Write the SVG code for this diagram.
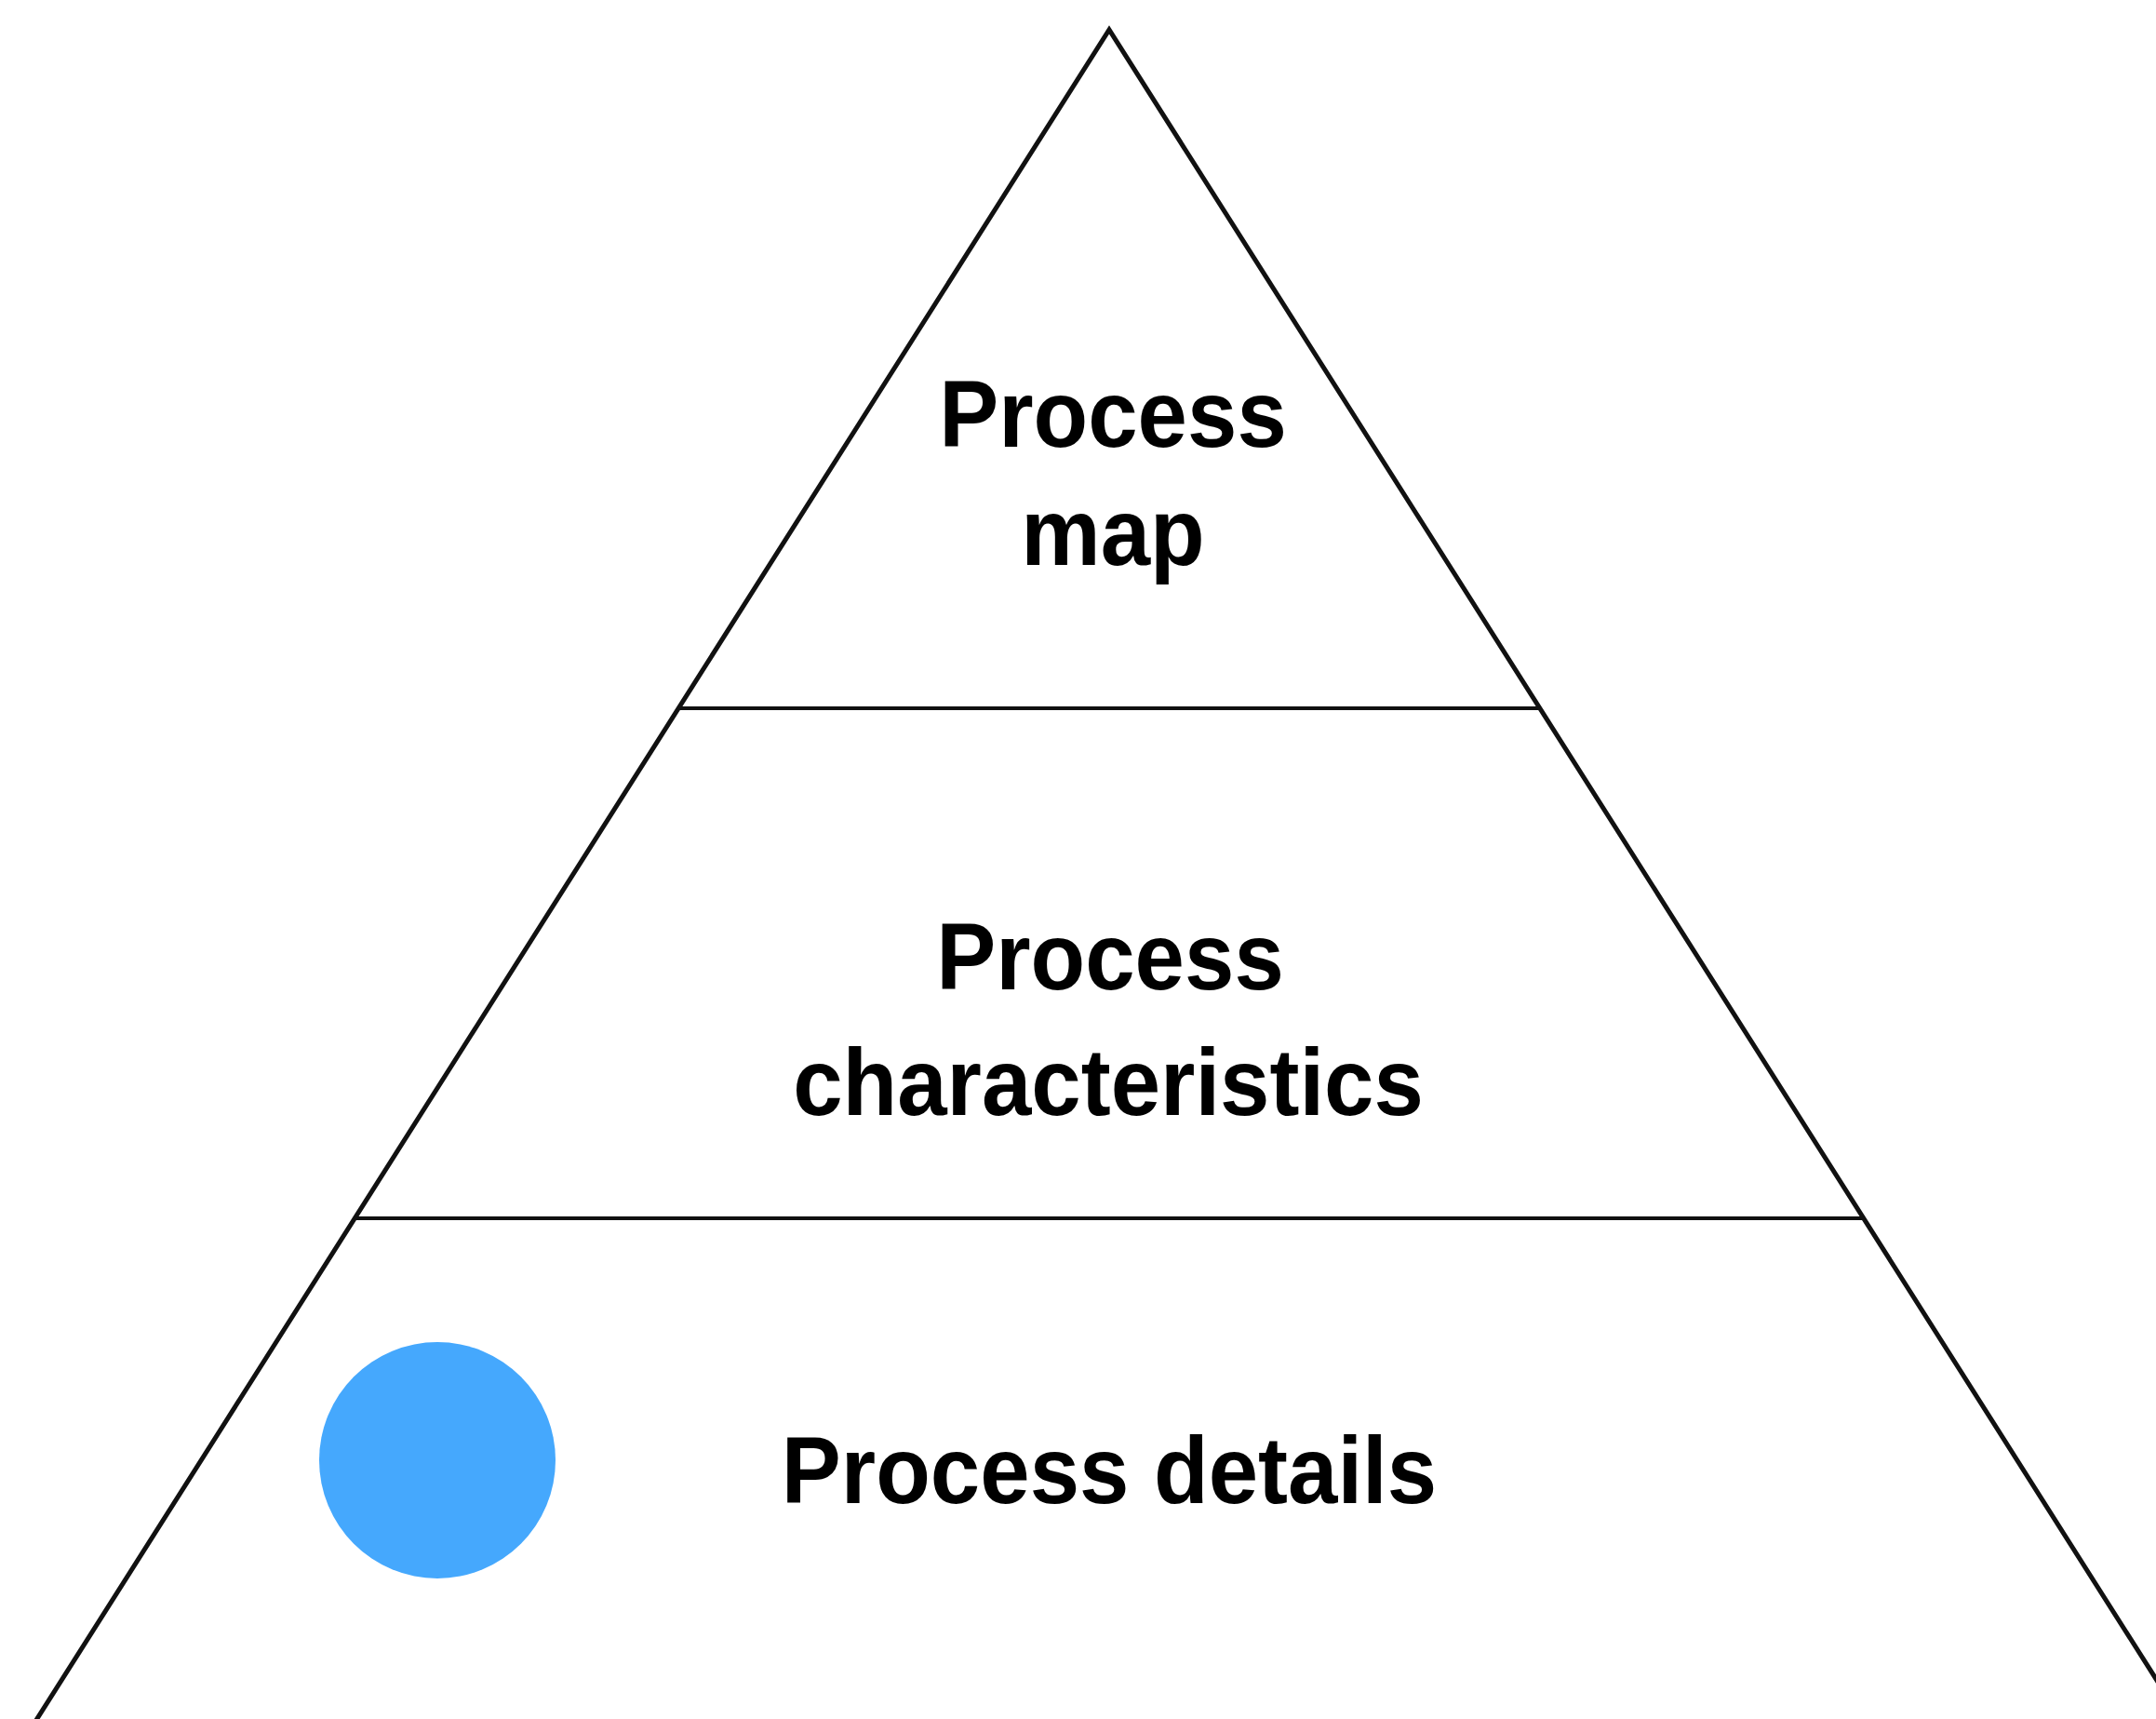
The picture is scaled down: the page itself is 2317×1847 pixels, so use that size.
<svg xmlns="http://www.w3.org/2000/svg" width="2317" height="1847" viewBox="0 0 2317 1847">
<style>
.edge{fill:none;stroke:#111;stroke-width:5;stroke-linejoin:miter}
.div{stroke:#111;stroke-width:4}
.lbl{font-family:"Liberation Sans",Arial,sans-serif;font-weight:bold;font-size:96px;fill:#000;text-anchor:middle}
</style>
<rect width="2317" height="1847" fill="#fff"/>
<g id="pyramid">
<polyline class="edge" points="20,1878 1192,32 2364,1878"/>
</g>
<g id="connectors">
<line class="div" x1="730" y1="761" x2="1655" y2="761"/>
<line class="div" x1="382" y1="1309" x2="2002" y2="1309"/>
</g>
<g id="level-top">
<text class="lbl" transform="translate(1196,480) scale(1,1.07)">Process</text>
<text class="lbl" transform="translate(1196,607) scale(1,1.07)">map</text>
</g>
<g id="level-middle">
<text class="lbl" transform="translate(1193,1063) scale(1,1.07)">Process</text>
<text class="lbl" transform="translate(1191,1198) scale(1,1.07)">characteristics</text>
</g>
<g id="level-bottom">
<circle cx="470" cy="1569" r="127" fill="#45A8FD"/>
<text class="lbl" transform="translate(1192,1615) scale(1,1.07)">Process details</text>
</g>
</svg>
